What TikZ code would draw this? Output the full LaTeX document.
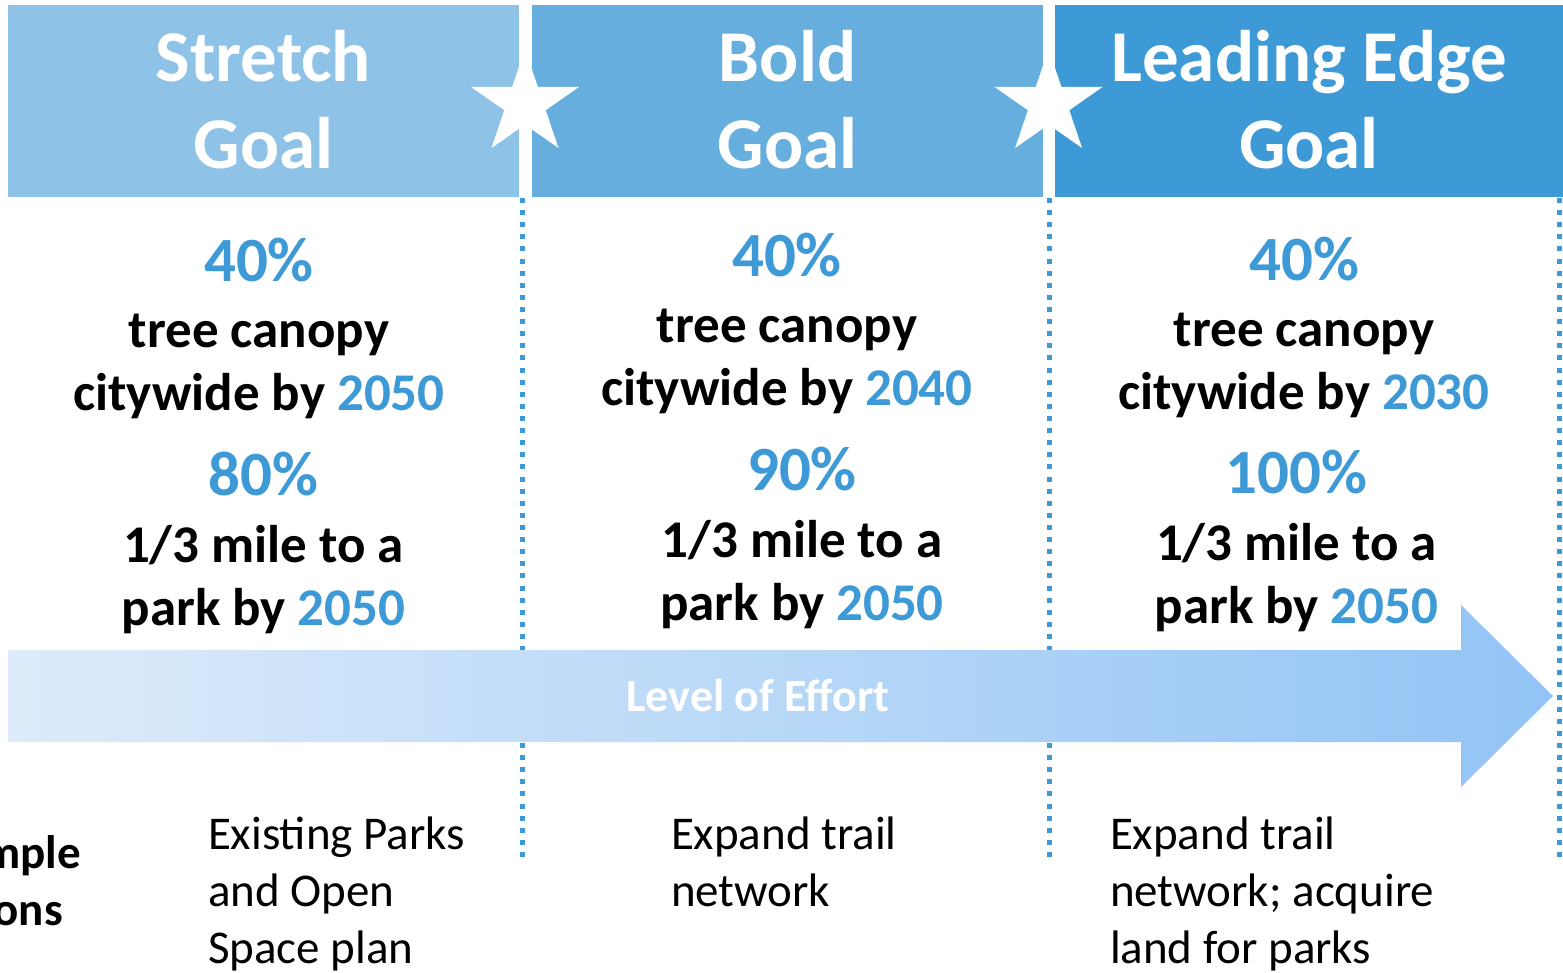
\documentclass[tikz,border=0pt]{standalone}
\usepackage{fontspec}
\setmainfont{Carlito}
\definecolor{boxA}{HTML}{8EC3E7}
\definecolor{boxB}{HTML}{65AEDD}
\definecolor{boxC}{HTML}{3E9AD6}
\definecolor{accent}{HTML}{3E9AD6}
\definecolor{arrowL}{RGB}{221,235,250}
\definecolor{arrowR}{RGB}{146,196,245}
\newcommand{\acc}[1]{\textcolor{accent}{#1}}
\begin{document}
\begin{tikzpicture}[x=1pt,y=-1pt,
  txt/.style={inner sep=0pt, outer sep=0pt, anchor=base},
  head/.style={txt, text=white, font=\fontsize{73}{86}\selectfont\bfseries},
  pct/.style={txt, text=accent, font=\fontsize{63}{70}\selectfont\bfseries},
  goal/.style={txt, text=black, font=\fontsize{53}{63}\selectfont\bfseries},
  action/.style={txt, anchor=base west, text=black, font=\fontsize{47}{57}\selectfont},
  sidelabel/.style={txt, anchor=base west, text=black, font=\fontsize{47}{57}\selectfont\bfseries},
  effort/.style={txt, text=white, font=\fontsize{46}{50}\selectfont\bfseries},
  divider/.style={draw=accent, line width=5pt, dash pattern=on 5pt off 7.11pt},
  starshape/.style={fill=white},
]
\useasboundingbox (0,0) rectangle (1563,972);
\clip (0,0) rectangle (1563,972);
\fill[white] (0,0) rectangle (1563,972);
% header boxes
\fill[boxA] (8,5) rectangle (519,197);
\fill[boxB] (532,5) rectangle (1043,197);
\fill[boxC] (1055,5) rectangle (1563,197);
% stars
\foreach \cx in {525,1048.6}{
  \fill[starshape, shift={(\cx,103.7)}] (0,-54.7) -- (12.8,-16.9) -- (54.2,-16.9) -- (20.7,6.5) -- (33.5,44.3) -- (0,20.9) -- (-33.5,44.3) -- (-20.7,6.5) -- (-54.2,-16.9) -- (-12.8,-16.9) -- cycle;
}
% dotted dividers
\coordinate (d1t) at (522,198);  \coordinate (d1b) at (522,857.5);
\coordinate (d2t) at (1049,198); \coordinate (d2b) at (1049,857.5);
\coordinate (d3t) at (1559,198); \coordinate (d3b) at (1559,857.5);
\draw[divider] (d1t) -- (d1b);
\draw[divider] (d2t) -- (d2b);
\draw[divider] (d3t) -- (d3b);
% effort arrow
\shade[left color=arrowL, right color=arrowR] (8,650) -- (1461,650) -- (1461,605) -- (1553,696) -- (1461,787) -- (1461,742) -- (8,742) -- cycle;
\node[effort] (loe) at (758,711.7) {Level of Effort};
% headers
\node[head] (h1a) at (263.5,81.7) {Stretch};
\node[head] (h1b) at (263.5,168) {Goal};
\node[head] (h2a) at (787.5,81.7) {Bold};
\node[head] (h2b) at (787.5,168) {Goal};
\node[head] (h3a) at (1309,81.7) {Leading Edge};
\node[head] (h3b) at (1309,168) {Goal};
% column 1
\node[pct]  (c1p1) at (259,281) {40\%};
\node[goal] (c1g1) at (259,347) {tree canopy};
\node[goal] (c1g2) at (259,410) {citywide by \acc{2050}};
\node[pct]  (c1p2) at (263.5,495) {80\%};
\node[goal] (c1g3) at (263.5,562) {1/3 mile to a};
\node[goal] (c1g4) at (263.5,625) {park by \acc{2050}};
% column 2
\node[pct]  (c2p1) at (787,276) {40\%};
\node[goal] (c2g1) at (787,342) {tree canopy};
\node[goal] (c2g2) at (787,405) {citywide by \acc{2040}};
\node[pct]  (c2p2) at (802,490) {90\%};
\node[goal] (c2g3) at (802,557) {1/3 mile to a};
\node[goal] (c2g4) at (802,620) {park by \acc{2050}};
% column 3
\node[pct]  (c3p1) at (1304,280) {40\%};
\node[goal] (c3g1) at (1304,346) {tree canopy};
\node[goal] (c3g2) at (1304,409) {citywide by \acc{2030}};
\node[pct]  (c3p2) at (1296.5,493) {100\%};
\node[goal] (c3g3) at (1296.5,560) {1/3 mile to a};
\node[goal] (c3g4) at (1296.5,623) {park by \acc{2050}};
% example actions (cut off by the left edge, as in the slide)
\node[sidelabel] (sa) at (-84.5,868) {Example};
\node[sidelabel] (sb) at (-82,925.5) {Actions};
\node[action] (a1a) at (208,849) {Existing Parks};
\node[action] (a1b) at (208,906) {and Open};
\node[action] (a1c) at (208,963) {Space plan};
\node[action] (a2a) at (671,849) {Expand trail};
\node[action] (a2b) at (671,906) {network};
\node[action] (a3a) at (1110,849) {Expand trail};
\node[action] (a3b) at (1110,906) {network; acquire};
\node[action] (a3c) at (1110,963) {land for parks};
\end{tikzpicture}
\end{document}
